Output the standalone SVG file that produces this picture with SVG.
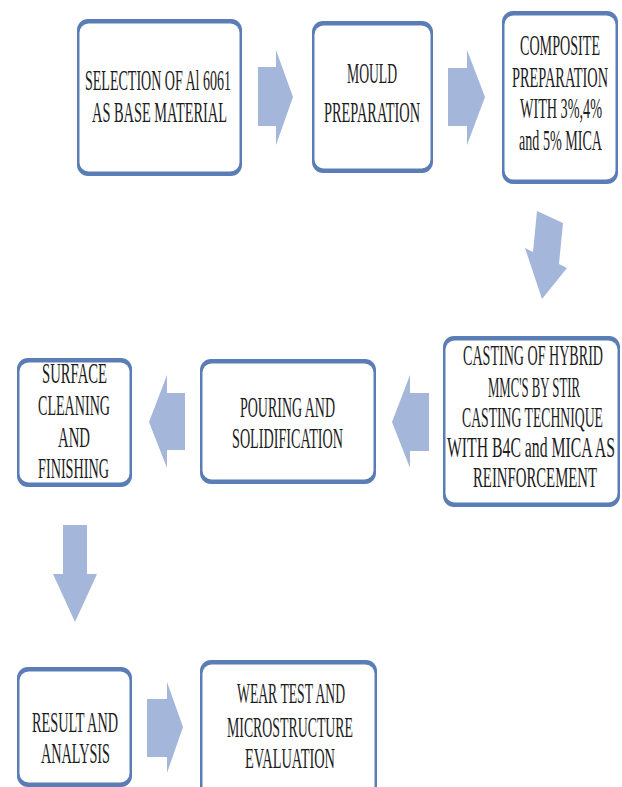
<svg xmlns="http://www.w3.org/2000/svg" width="622" height="787" viewBox="0 0 622 787">
<style>
.frame{fill:#5b7db5;}
.inner{fill:#ffffff;}
.arrow{fill:#a4b6d9;}
text{font-family:"Liberation Serif","Times New Roman",serif;font-size:29px;fill:#1c1c1c;text-anchor:middle;}
</style>
<rect width="622" height="787" fill="#ffffff"/>
<g id="connectors">
<polygon class="arrow" points="258,67 276,67 276,50 293,97 276,145 276,126 258,126"/>
<polygon class="arrow" points="448,68 467,68 467,50 485,97 467,145 467,126 448,126"/>
<polygon class="arrow" points="537,211 563,223 559,264 567,268 542,299 525,248 533,252"/>
<polygon class="arrow" points="429,393 410,393 410,375 392,422 410,468 410,451 429,451"/>
<polygon class="arrow" points="185,393 167,393 167,375 149,422 167,468 167,450 185,450"/>
<polygon class="arrow" points="63,525 87,525 87,574 97,574 75,622 53,574 63,574"/>
<polygon class="arrow" points="147,699 167,699 167,682 183,727 167,773 167,757 147,757"/>
</g>
<g id="node1">
<rect class="frame" x="77" y="19" width="165" height="157" rx="11"/>
<rect class="inner" x="79.5" y="23.5" width="160" height="148" rx="9"/>
<text transform="translate(158,0) scale(0.5,1)" y="90" textLength="292" lengthAdjust="spacingAndGlyphs">SELECTION OF Al 6061</text>
<text transform="translate(159.5,0) scale(0.5,1)" y="122" textLength="270" lengthAdjust="spacingAndGlyphs">AS BASE MATERIAL</text>
</g>
<g id="node2">
<rect class="frame" x="312" y="21" width="121" height="152" rx="11"/>
<rect class="inner" x="314.5" y="25.5" width="116" height="143" rx="9"/>
<text transform="translate(372,0) scale(0.5,1)" y="83" textLength="100" lengthAdjust="spacingAndGlyphs">MOULD</text>
<text transform="translate(372,0) scale(0.5,1)" y="122" textLength="192" lengthAdjust="spacingAndGlyphs">PREPARATION</text>
</g>
<g id="node3">
<rect class="frame" x="502" y="11" width="116" height="173" rx="11"/>
<rect class="inner" x="504.5" y="15.5" width="111" height="164" rx="9"/>
<text transform="translate(560,0) scale(0.5,1)" y="55" textLength="160" lengthAdjust="spacingAndGlyphs">COMPOSITE</text>
<text transform="translate(560,0) scale(0.5,1)" y="87" textLength="192" lengthAdjust="spacingAndGlyphs">PREPARATION</text>
<text transform="translate(561,0) scale(0.5,1)" y="118" textLength="164" lengthAdjust="spacingAndGlyphs">WITH 3%,4%</text>
<text transform="translate(560.5,0) scale(0.5,1)" y="150" textLength="166" lengthAdjust="spacingAndGlyphs">and 5% MICA</text>
</g>
<g id="node4">
<rect class="frame" x="443" y="336" width="177" height="171" rx="11"/>
<rect class="inner" x="445.5" y="340.5" width="172" height="162" rx="9"/>
<text transform="translate(533,0) scale(0.5,1)" y="365" textLength="280" lengthAdjust="spacingAndGlyphs">CASTING OF HYBRID</text>
<text transform="translate(534,0) scale(0.5,1)" y="397" textLength="184" lengthAdjust="spacingAndGlyphs">MMC'S BY STIR</text>
<text transform="translate(532.5,0) scale(0.5,1)" y="427" textLength="282" lengthAdjust="spacingAndGlyphs">CASTING TECHNIQUE</text>
<text transform="translate(531,0) scale(0.5,1)" y="457" textLength="336" lengthAdjust="spacingAndGlyphs">WITH B4C and MICA AS</text>
<text transform="translate(535,0) scale(0.5,1)" y="487" textLength="248" lengthAdjust="spacingAndGlyphs">REINFORCEMENT</text>
</g>
<g id="node5">
<rect class="frame" x="200" y="359" width="176" height="125" rx="11"/>
<rect class="inner" x="202.5" y="363.5" width="171" height="116" rx="9"/>
<text transform="translate(287.5,0) scale(0.5,1)" y="417" textLength="190" lengthAdjust="spacingAndGlyphs">POURING AND</text>
<text transform="translate(287.5,0) scale(0.5,1)" y="448" textLength="222" lengthAdjust="spacingAndGlyphs">SOLIDIFICATION</text>
</g>
<g id="node6">
<rect class="frame" x="17" y="358" width="115" height="129" rx="11"/>
<rect class="inner" x="19.5" y="362.5" width="110" height="120" rx="9"/>
<text transform="translate(74.5,0) scale(0.5,1)" y="383" textLength="130" lengthAdjust="spacingAndGlyphs">SURFACE</text>
<text transform="translate(74,0) scale(0.5,1)" y="415" textLength="144" lengthAdjust="spacingAndGlyphs">CLEANING</text>
<text transform="translate(74,0) scale(0.5,1)" y="447" textLength="64" lengthAdjust="spacingAndGlyphs">AND</text>
<text transform="translate(73.5,0) scale(0.5,1)" y="478" textLength="142" lengthAdjust="spacingAndGlyphs">FINISHING</text>
</g>
<g id="node7">
<rect class="frame" x="17" y="667" width="115" height="120" rx="11"/>
<rect class="inner" x="19.5" y="671.5" width="110" height="111" rx="9"/>
<text transform="translate(75,0) scale(0.5,1)" y="732" textLength="172" lengthAdjust="spacingAndGlyphs">RESULT AND</text>
<text transform="translate(75.5,0) scale(0.5,1)" y="763" textLength="138" lengthAdjust="spacingAndGlyphs">ANALYSIS</text>
</g>
<g id="node8">
<rect class="frame" x="200" y="660" width="177" height="140" rx="11"/>
<rect class="inner" x="202.5" y="664.5" width="172" height="140" rx="9"/>
<text transform="translate(291,0) scale(0.5,1)" y="703" textLength="216" lengthAdjust="spacingAndGlyphs">WEAR TEST AND</text>
<text transform="translate(290,0) scale(0.5,1)" y="737" textLength="252" lengthAdjust="spacingAndGlyphs">MICROSTRUCTURE</text>
<text transform="translate(290,0) scale(0.5,1)" y="768" textLength="180" lengthAdjust="spacingAndGlyphs">EVALUATION</text>
</g>
</svg>
